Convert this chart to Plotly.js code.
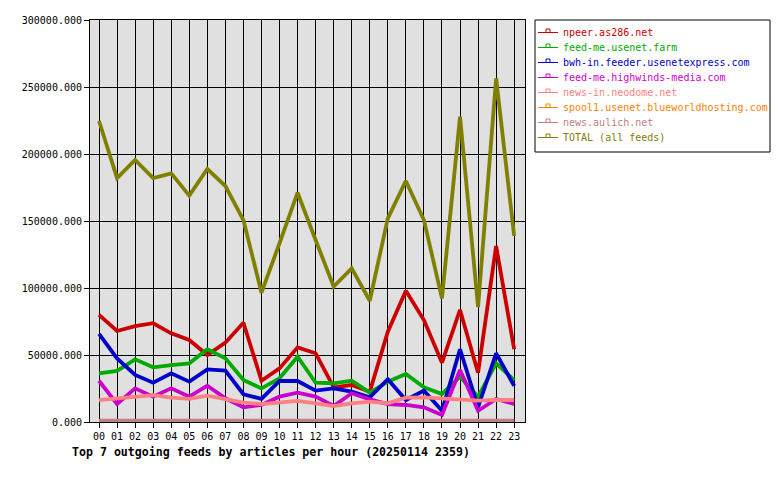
<!DOCTYPE html>
<html>
<head>
<meta charset="utf-8">
<script src="https://cdn.plot.ly/plotly-3.0.1.min.js"></script>
<style>
  html, body { margin: 0; padding: 0; background: #ffffff; }
  #chart { width: 780px; height: 480px; }
</style>
</head>
<body>
<div id="chart"></div>
<script>
// ---- Data ----
const hours = ["00","01","02","03","04","05","06","07","08","09","10","11",
               "12","13","14","15","16","17","18","19","20","21","22","23"];

const feedNames = [
  "npeer.as286.net",
  "feed-me.usenet.farm",
  "bwh-in.feeder.usenetexpress.com",
  "feed-me.highwinds-media.com",
  "news-in.neodome.net",
  "spool1.usenet.blueworldhosting.com",
  "news.aulich.net",
  "TOTAL (all feeds)"
];

const npeer = [79900, 67900, 71600, 73700, 66200, 61200, 50000, 59200, 74100, 30800, 40000, 55700,
               51300, 25900, 27600, 22600, 67400, 98000, 76100, 44300, 83600, 36800, 131300, 54300];
const usenetFarm = [36300, 38100, 46800, 40800, 42500, 43800, 54300, 47500, 31300, 25100, 32600, 48700,
                    29300, 28900, 30800, 21900, 30100, 35800, 25900, 20900, 33800, 18900, 43800, 31300];
const usenetExpress = [65700, 47500, 35100, 29300, 36300, 30100, 39300, 38300, 20700, 17200, 30600, 30600,
                       23400, 25100, 22600, 18400, 31900, 16400, 23400, 8400, 54300, 11000, 51300, 26900];
const highwinds = [30800, 13400, 25100, 18900, 25100, 18900, 27100, 17700, 11000, 12700, 18900, 21900,
                   18900, 11900, 21400, 16900, 13400, 12700, 11000, 5200, 38800, 8400, 17200, 13400];
const neodome = [16400, 17700, 18400, 20100, 18200, 17200, 19700, 17200, 14400, 13400, 14700, 15700,
                 13900, 11900, 13900, 15200, 13900, 18200, 18400, 17700, 17200, 15900, 16400, 16400];
const blueworld = [600, 600, 600, 600, 600, 600, 600, 600, 600, 600, 600, 600,
                   600, 600, 600, 600, 600, 600, 600, 600, 600, 600, 600, 600];
const aulich = [1000, 1000, 1000, 1000, 1000, 1000, 1000, 1000, 1000, 1000, 1000, 1000,
                1000, 1000, 1000, 1000, 1000, 1000, 1000, 1000, 1000, 1000, 1000, 1000];
const total = [224600, 182000, 195500, 182000, 185600, 168900, 188800, 176100, 150700, 96500, 133400, 171100,
               135800, 101000, 114700, 90500, 152000, 179900, 150700, 92300, 227800, 85800, 256500, 138800];

const yTickVals = [0, 50000, 100000, 150000, 200000, 250000, 300000];
const chartTitle = "Top 7 outgoing feeds by articles per hour (20250114 2359)";

// ---- Styles ----
const seriesValues = [npeer, usenetFarm, usenetExpress, highwinds, neodome, blueworld, aulich, total];
const colors = ["#cc0000", "#00aa00", "#0000cc", "#cc00cc", "#ff8080", "#ff8000", "#c08080", "#808000"];
const FONT = "DejaVu Sans Mono, Liberation Mono, monospace";

// Plot area in pixels
const L = 90, R = 525, T = 20, B = 422;
const px = x => (x - L) / (R - L);
const py = y => (B - y) / (B - T);

const traces = seriesValues.map((vals, i) => ({
  type: "scatter",
  mode: "lines",
  x: hours,
  y: vals,
  name: feedNames[i],
  line: { color: colors[i], width: 3.8 },
  hoverinfo: "x+y+name"
}));

// Custom legend (box, line samples, markers, labels)
const shapes = [];
const annotations = [];
shapes.push({
  type: "rect", xref: "paper", yref: "paper",
  x0: px(535), x1: px(770), y0: py(20), y1: py(152),
  line: { color: "#000000", width: 1 }, fillcolor: "#ffffff", layer: "above"
});
feedNames.forEach((name, i) => {
  const yy = 32.5 + i * 15;
  shapes.push({
    type: "line", xref: "paper", yref: "paper",
    x0: px(538), x1: px(558), y0: py(yy), y1: py(yy),
    line: { color: colors[i], width: 1 }, layer: "above"
  });
  shapes.push({
    type: "rect", xref: "paper", yref: "paper",
    x0: px(546), x1: px(550), y0: py(yy - 3.5), y1: py(yy),
    line: { color: colors[i], width: 1 }, fillcolor: "rgba(0,0,0,0)", layer: "above"
  });
  annotations.push({
    xref: "paper", yref: "paper",
    x: px(561), y: py(yy),
    xanchor: "left", yanchor: "middle",
    text: name, showarrow: false,
    font: { family: FONT, size: 10, color: colors[i] }
  });
});

const layout = {
  width: 780, height: 480,
  margin: { l: L, r: 780 - R, t: T, b: 480 - B, pad: 0 },
  paper_bgcolor: "#ffffff",
  plot_bgcolor: "#e0e0e0",
  showlegend: false,
  font: { family: FONT, size: 10, color: "#000000" },
  title: {
    text: chartTitle,
    xref: "container", yref: "container",
    x: 72 / 780, xanchor: "left",
    y: 1 - 452 / 480, yanchor: "middle",
    font: { family: FONT, size: 11.6, color: "#000000", weight: "bold" }
  },
  xaxis: {
    type: "category",
    range: [-0.5, 23.6],
    showgrid: true, gridcolor: "#000000", gridwidth: 1,
    showline: true, linecolor: "#000000", linewidth: 1, mirror: true,
    ticks: "outside", ticklen: 5, tickcolor: "#000000",
    tickfont: { family: FONT, size: 10, color: "#000000" },
    zeroline: false, fixedrange: true
  },
  yaxis: {
    range: [0, 300000],
    tickvals: yTickVals,
    tickformat: ".3f",
    showgrid: true, gridcolor: "#000000", gridwidth: 1,
    showline: true, linecolor: "#000000", linewidth: 1, mirror: true,
    ticks: "outside", ticklen: 5, tickcolor: "#000000",
    tickfont: { family: FONT, size: 10, color: "#000000" },
    zeroline: false, fixedrange: true
  },
  shapes: shapes,
  annotations: annotations
};

Plotly.newPlot("chart", traces, layout, { staticPlot: true, displayModeBar: false });
</script>
</body>
</html>
